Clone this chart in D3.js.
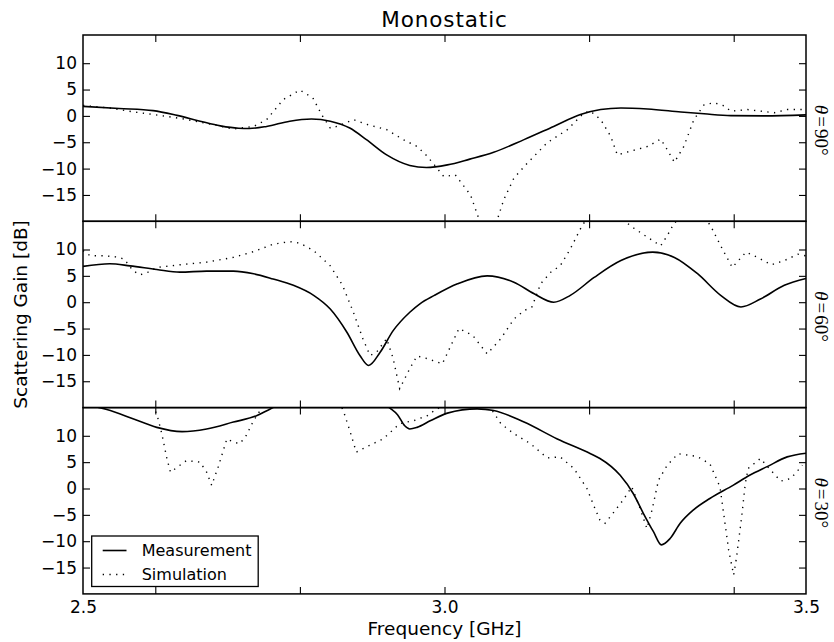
<!DOCTYPE html>
<html>
<head>
<meta charset="utf-8">
<script src="https://cdn.jsdelivr.net/npm/d3@7"></script>
<style>
  body { margin: 0; background: #fff; }
  svg { display: block; }
  text { font-family: "DejaVu Sans", sans-serif; fill: #000; }
</style>
</head>
<body>
<svg id="chart" width="834" height="642"></svg>
<script>
// ---------- data (frequency in GHz, gain in dB) ----------
const panelLabels = ["90", "60", "30"];
const yTickValues = [-15, -10, -5, 0, 5, 10];
const xTickMarks = [2.6, 2.8, 3.0, 3.2, 3.4];
const xTickLabels = [2.5, 3.0, 3.5];
const seriesNames = ["Measurement", "Simulation"];

const meas90 = [[2.5,1.8],[2.55,1.4],[2.597,1.0],[2.63,0.1],[2.662,-1.0],[2.69,-1.9],[2.715,-2.35],[2.73,-2.4],[2.754,-2.0],[2.786,-1.0],[2.816,-0.6],[2.842,-1.0],[2.869,-2.3],[2.892,-4.5],[2.92,-7.4],[2.952,-9.4],[2.975,-9.8],[3.004,-9.3],[3.035,-8.2],[3.068,-6.9],[3.11,-4.5],[3.151,-2.0],[3.188,0.25],[3.216,1.2],[3.244,1.5],[3.281,1.3],[3.327,0.75],[3.359,0.4],[3.396,0.05],[3.442,0.0],[3.5,0.2]];
const sim90 = [[2.5,2.0],[2.52,1.7],[2.537,1.5],[2.57,0.75],[2.59,0.4],[2.616,-0.1],[2.64,-0.6],[2.662,-1.2],[2.685,-1.8],[2.708,-2.5],[2.736,-2.0],[2.754,-0.7],[2.777,3.1],[2.8,4.9],[2.818,3.4],[2.83,0.25],[2.842,-2.3],[2.851,-2.0],[2.874,-0.7],[2.892,-1.6],[2.92,-2.6],[2.943,-4.5],[2.962,-5.8],[2.975,-7.5],[2.986,-9.3],[2.999,-11.5],[3.015,-11.2],[3.036,-15.0],[3.048,-19.7],[3.06,-21.5],[3.073,-19.7],[3.082,-15.9],[3.096,-11.8],[3.115,-8.9],[3.142,-5.1],[3.17,-2.6],[3.193,0.6],[3.202,0.9],[3.216,-0.7],[3.23,-3.9],[3.239,-7.4],[3.257,-6.7],[3.281,-5.8],[3.299,-4.4],[3.308,-6.4],[3.318,-8.8],[3.331,-5.8],[3.345,-0.7],[3.359,2.1],[3.373,2.5],[3.387,1.9],[3.396,0.9],[3.419,1.2],[3.456,0.6],[3.474,1.2],[3.5,1.2]];

const meas60 = [[2.5,6.8],[2.537,7.3],[2.565,6.9],[2.602,6.2],[2.634,5.7],[2.671,5.9],[2.708,5.9],[2.736,5.4],[2.763,4.4],[2.791,3.2],[2.819,1.3],[2.842,-1.3],[2.865,-5.7],[2.883,-10.1],[2.895,-12.0],[2.911,-9.5],[2.929,-5.4],[2.952,-1.9],[2.966,-0.3],[2.986,1.3],[3.018,3.5],[3.059,5.0],[3.096,3.8],[3.124,1.6],[3.151,0.0],[3.174,1.3],[3.207,4.7],[3.244,7.9],[3.288,9.5],[3.318,8.5],[3.35,5.4],[3.382,1.3],[3.41,-0.9],[3.437,0.6],[3.47,3.2],[3.5,4.5]];
const sim60 = [[2.5,9.8],[2.51,8.8],[2.53,8.8],[2.545,8.6],[2.557,8.2],[2.569,6.0],[2.579,5.2],[2.59,5.7],[2.602,6.6],[2.634,7.1],[2.671,7.6],[2.708,8.5],[2.736,9.6],[2.763,11.0],[2.786,11.5],[2.8,11.2],[2.819,9.8],[2.842,6.9],[2.859,3.2],[2.874,-1.9],[2.887,-6.9],[2.897,-10.1],[2.906,-9.5],[2.92,-6.9],[2.929,-10.7],[2.938,-16.4],[2.952,-12.6],[2.962,-10.2],[2.976,-10.7],[2.997,-11.7],[3.009,-8.2],[3.02,-5.0],[3.039,-6.3],[3.059,-9.8],[3.078,-6.9],[3.096,-3.2],[3.11,-1.6],[3.121,-0.9],[3.133,3.5],[3.147,5.7],[3.16,6.9],[3.174,10.1],[3.188,13.9],[3.198,16.2],[3.22,17.5],[3.245,16.0],[3.257,14.5],[3.281,12.3],[3.299,10.7],[3.308,12.6],[3.318,15.1],[3.34,17.0],[3.36,16.0],[3.368,14.5],[3.382,10.7],[3.398,6.6],[3.417,9.5],[3.433,8.5],[3.452,7.1],[3.47,7.9],[3.489,9.1],[3.5,8.8]];

const meas30 = [[2.5,16.0],[2.533,15.0],[2.57,13.2],[2.602,11.6],[2.637,10.8],[2.671,11.3],[2.708,12.6],[2.74,13.8],[2.759,15.1],[2.8,17.5],[2.85,18.5],[2.9,17.0],[2.925,15.2],[2.935,14.0],[2.945,11.9],[2.952,11.3],[2.962,11.6],[2.981,12.9],[3.004,14.3],[3.045,15.1],[3.068,14.8],[3.11,12.6],[3.156,9.4],[3.202,6.6],[3.215,5.7],[3.243,2.5],[3.261,-0.95],[3.275,-4.7],[3.289,-8.2],[3.3,-10.7],[3.312,-9.5],[3.326,-6.6],[3.344,-4.1],[3.367,-1.9],[3.399,0.6],[3.422,2.5],[3.447,4.2],[3.474,6.0],[3.5,6.7]];
const sim30 = [[2.5,17.5],[2.55,18.0],[2.59,17.0],[2.602,14.2],[2.609,10.4],[2.616,5.7],[2.621,3.1],[2.634,4.4],[2.643,5.3],[2.662,5.0],[2.671,3.1],[2.678,0.6],[2.687,4.1],[2.699,9.4],[2.708,8.8],[2.717,8.5],[2.726,10.1],[2.736,12.9],[2.745,14.8],[2.76,17.5],[2.81,19.0],[2.85,17.5],[2.86,14.8],[2.869,11.0],[2.878,6.9],[2.892,7.9],[2.915,9.4],[2.938,12.3],[2.958,12.9],[2.976,13.8],[2.988,15.0],[3.02,17.0],[3.05,16.5],[3.066,14.8],[3.078,12.3],[3.096,10.4],[3.119,8.5],[3.142,5.8],[3.16,6.0],[3.179,3.8],[3.197,0.0],[3.209,-4.1],[3.215,-6.0],[3.222,-6.6],[3.233,-4.7],[3.247,-2.2],[3.259,0.3],[3.268,-2.8],[3.28,-7.6],[3.287,-4.1],[3.296,1.6],[3.308,4.4],[3.323,6.6],[3.349,6.1],[3.367,4.7],[3.381,0.3],[3.388,-6.6],[3.393,-11.7],[3.4,-16.4],[3.404,-13.0],[3.411,-5.4],[3.416,0.9],[3.42,3.8],[3.437,5.7],[3.447,4.1],[3.465,1.4],[3.479,1.9],[3.495,4.4]];

const panelData = [[meas90, sim90], [meas60, sim60], [meas30, sim30]];

// ---------- layout ----------
const svg = d3.select("#chart");
const L = 83, R = 806, T = 35, PH = 186.3;
const yDomain = [-20, 15.35];
const x = d3.scaleLinear().domain([2.5, 3.5]).range([L, R]);
const TICK = 7;
const FRAME_W = 1.5;

const lineMeas = d3.line().curve(d3.curveMonotoneX);
const lineSim = d3.line();

panelData.forEach((series, i) => {
  const top = T + i * PH, bot = top + PH;
  const y = d3.scaleLinear().domain(yDomain).range([bot, top]);
  const g = svg.append("g");

  const clipId = "clip" + i;
  svg.append("clipPath").attr("id", clipId)
    .append("rect").attr("x", L).attr("y", top).attr("width", R - L).attr("height", PH);

  const lines = g.append("g").attr("clip-path", `url(#${clipId})`);
  lineMeas.x(d => x(d[0])).y(d => y(d[1]));
  lineSim.x(d => x(d[0])).y(d => y(d[1]));
  lines.append("path").attr("d", lineMeas(series[0]))
    .attr("fill", "none").attr("stroke", "#000").attr("stroke-width", 1.6);
  lines.append("path").attr("d", lineSim(series[1]))
    .attr("fill", "none").attr("stroke", "#000").attr("stroke-width", 1.4)
    .attr("stroke-dasharray", "1.3 5.4");

  // axes (inward ticks)
  const yl = g.append("g").attr("transform", `translate(${L},0)`)
    .call(d3.axisLeft(y).tickValues(yTickValues).tickSize(-TICK).tickPadding(6)
      .tickFormat(d => d3.format("d")(d).replace("-", "\u2212")));
  const yr = g.append("g").attr("transform", `translate(${R},0)`)
    .call(d3.axisRight(y).tickValues(yTickValues).tickSize(-TICK).tickFormat(""));
  const xt = g.append("g").attr("transform", `translate(0,${top})`)
    .call(d3.axisTop(x).tickValues(xTickMarks).tickSize(-TICK).tickFormat(""));
  const xb = g.append("g").attr("transform", `translate(0,${bot})`)
    .call(d3.axisBottom(x).tickValues(xTickMarks).tickSize(-TICK).tickFormat(""));
  [yl, yr, xt, xb].forEach(a => {
    a.select(".domain").remove();
    a.selectAll(".tick line").attr("stroke", "#000").attr("stroke-width", 1.1);
    a.selectAll("text").attr("font-family", "DejaVu Sans").attr("font-size", 17).attr("fill", "#000");
  });

  // frame
  g.append("rect").attr("x", L).attr("y", top).attr("width", R - L).attr("height", PH)
    .attr("fill", "none").attr("stroke", "#000").attr("stroke-width", FRAME_W);

  // right label
  const cy = (top + bot) / 2 + 2;
  const lab = svg.append("text")
    .attr("transform", `translate(815,${cy}) rotate(90)`)
    .attr("text-anchor", "middle")
    .style("font-family", "'Liberation Serif', serif")
    .attr("font-size", 19);
  lab.append("tspan").attr("font-style", "italic").text("\u03B8");
  lab.append("tspan").attr("dx", 2).text("=");
  lab.append("tspan").attr("dx", 2).text(panelLabels[i] + "\u00B0");

  if (i === panelData.length - 1) {
    const xl = g.append("g").attr("transform", `translate(0,${bot})`)
      .call(d3.axisBottom(x).tickValues(xTickLabels).tickSize(0).tickPadding(7.5)
        .tickFormat(d3.format(".1f")));
    xl.select(".domain").remove();
    xl.selectAll("text").attr("font-family", "DejaVu Sans").attr("font-size", 17).attr("fill", "#000");

    // legend
    const lg = svg.append("g");
    lg.append("rect").attr("x", 91.7).attr("y", 536).attr("width", 166.5).attr("height", 50.5)
      .attr("fill", "#fff").attr("stroke", "#000").attr("stroke-width", 1.3);
    const entries = [{ name: seriesNames[0], dash: null, w: 1.6, yy: 550.5 },
                     { name: seriesNames[1], dash: "1.3 5.4", w: 1.4, yy: 574.5 }];
    entries.forEach(e => {
      const ln = lg.append("line").attr("x1", 102.7).attr("x2", 126.5)
        .attr("y1", e.yy).attr("y2", e.yy).attr("stroke", "#000").attr("stroke-width", e.w);
      if (e.dash) ln.attr("stroke-dasharray", e.dash);
      lg.append("text").attr("x", 141.7).attr("y", e.yy + 5.8)
        .attr("font-size", 16).text(e.name);
    });
  }
});

// titles
svg.append("text").attr("x", (L + R) / 2).attr("y", 27).attr("text-anchor", "middle")
  .attr("font-size", 21.5).attr("letter-spacing", 0.9).text("Monostatic");
svg.append("text").attr("x", (L + R) / 2).attr("y", 635).attr("text-anchor", "middle")
  .attr("font-size", 18.5).text("Frequency [GHz]");
svg.append("text").attr("transform", `translate(27,${T + 1.5 * PH}) rotate(-90)`)
  .attr("text-anchor", "middle").attr("font-size", 18.5).text("Scattering Gain [dB]");
</script>
</body>
</html>
